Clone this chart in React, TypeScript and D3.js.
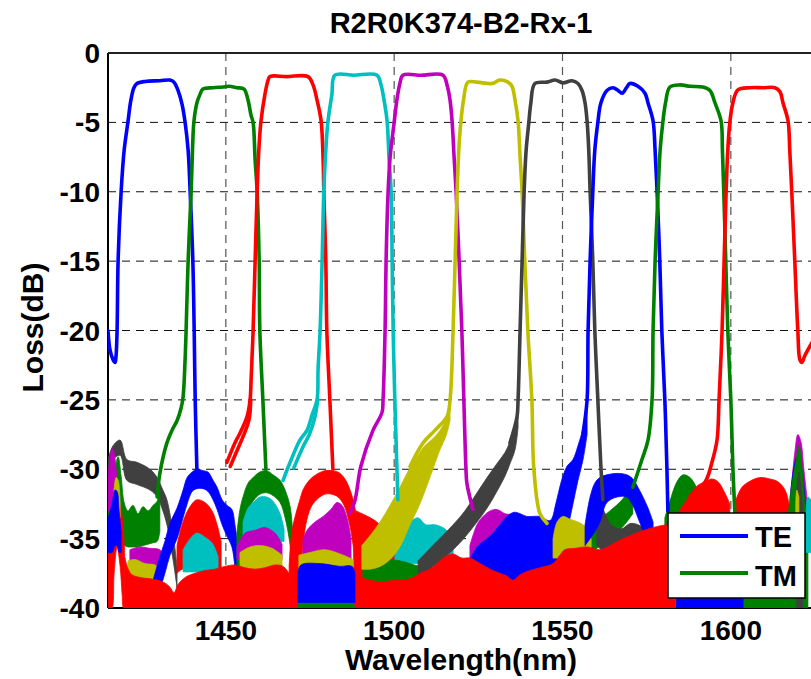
import React from 'react';
import * as d3 from 'd3';

const titleText = 'R2R0K374-B2-Rx-1';
const xLabel = 'Wavelength(nm)';
const yLabel = 'Loss(dB)';
const xTicks = [1450, 1500, 1550, 1600];
const yTicks = [0, -5, -10, -15, -20, -25, -30, -35, -40];
const legendLabels = ['TE', 'TM'];

type P = [number, number];
type B = [number, number, number];

const BLUE = '#0000ff', GREEN = '#008000', RED = '#ff0000', CYAN = '#00bfbf', MAG = '#bf00bf', YEL = '#bfbf00', GRAY = '#404040';

// ---- passband traces [wavelength nm, loss dB]
const ch1: P[] = [[1415.0,-20.0],[1415.6,-21.4],[1416.5,-22.1],[1417.1,-22.3],[1417.4,-21.8],[1417.7,-20.0],[1418.0,-15.0],[1418.9,-10.0],[1419.8,-7.0],[1420.9,-5.0],[1421.8,-3.4],[1422.7,-2.5],[1423.6,-2.2],[1426.0,-2.05],[1430.4,-2.0],[1433.4,-1.95],[1434.6,-2.1],[1435.8,-2.7],[1437.0,-3.7],[1437.9,-5.0],[1438.8,-7.0],[1439.4,-10.0],[1440.2,-15.0],[1440.6,-20.0],[1440.9,-25.0],[1441.4,-30.0]];
const ch2: P[] = [[1429.6,-32.0],[1430.4,-30.3],[1432.5,-28.1],[1434.0,-27.2],[1435.5,-26.5],[1436.7,-25.6],[1437.3,-24.8],[1437.9,-22.1],[1438.2,-20.0],[1438.8,-15.0],[1439.7,-10.0],[1440.1,-7.0],[1440.5,-5.0],[1441.4,-3.6],[1442.3,-3.0],[1443.2,-2.6],[1446.2,-2.5],[1449.1,-2.45],[1450.9,-2.4],[1453.3,-2.5],[1455.4,-2.6],[1456.6,-3.4],[1457.5,-4.5],[1458.1,-5.0],[1458.7,-7.7],[1459.3,-10.0],[1459.9,-15.0],[1460.1,-20.0],[1461.0,-25.0],[1461.9,-30.0]];
const ch3: P[] = [[1450.3,-29.5],[1452.7,-28.1],[1454.2,-27.4],[1456.3,-26.2],[1457.2,-25.0],[1457.5,-23.6],[1458.1,-20.0],[1458.7,-15.0],[1459.3,-10.0],[1459.8,-7.0],[1460.4,-5.0],[1461.6,-3.0],[1462.5,-2.0],[1463.1,-1.7],[1468.0,-1.7],[1474.4,-1.7],[1475.9,-2.3],[1477.1,-3.4],[1478.3,-4.9],[1478.9,-7.7],[1479.1,-10.0],[1479.7,-15.0],[1480.0,-20.0],[1480.9,-25.0],[1481.8,-30.0]];
const ch3b: P[] = [[1451.3,-29.8],[1453.6,-28.5],[1455.2,-27.6],[1456.9,-26.4],[1457.4,-25.0]];
const ch4: P[] = [[1467.0,-30.8],[1469.1,-29.5],[1472.0,-27.9],[1474.1,-27.2],[1475.6,-26.1],[1477.1,-25.0],[1477.4,-22.8],[1478.0,-20.0],[1478.6,-15.0],[1479.1,-10.0],[1479.7,-7.0],[1480.3,-5.0],[1481.5,-3.0],[1482.4,-1.6],[1488.0,-1.6],[1494.9,-1.6],[1496.1,-2.3],[1497.0,-3.4],[1497.9,-4.9],[1498.5,-7.7],[1499.1,-10.0],[1499.4,-15.0],[1499.7,-20.0],[1500.2,-25.0],[1500.8,-29.8],[1501.1,-32.2]];
const ch4b: P[] = [[1470.2,-29.9],[1472.9,-28.4],[1474.8,-27.5],[1476.4,-26.3],[1477.3,-25.0]];
const ch5: P[] = [[1486.9,-33.2],[1488.4,-32.2],[1490.1,-29.8],[1493.7,-27.2],[1496.4,-25.9],[1496.7,-25.0],[1497.3,-20.0],[1497.6,-15.0],[1498.2,-10.0],[1498.8,-7.5],[1500.0,-5.0],[1500.8,-3.4],[1501.7,-2.2],[1502.6,-1.6],[1508.0,-1.6],[1514.5,-1.6],[1515.7,-2.3],[1516.6,-3.4],[1517.2,-4.9],[1517.8,-7.5],[1518.4,-10.0],[1519.3,-15.0],[1520.1,-20.0],[1520.7,-25.0],[1521.3,-29.8],[1521.6,-31.0],[1523.4,-32.9]];
const ch6: P[] = [[1504.7,-29.8],[1508.6,-28.1],[1512.1,-27.2],[1515.7,-26.2],[1516.6,-25.0],[1517.5,-20.0],[1518.1,-15.0],[1518.7,-10.0],[1519.2,-7.0],[1519.8,-5.0],[1520.6,-3.4],[1521.9,-2.1],[1524.6,-2.1],[1529.1,-2.2],[1531.4,-1.95],[1533.8,-2.1],[1535.0,-2.4],[1535.9,-3.4],[1536.8,-4.9],[1537.4,-7.5],[1538.0,-10.0],[1538.8,-15.0],[1539.7,-20.0],[1540.9,-25.0],[1541.5,-30.0],[1543.3,-33.2],[1545.4,-33.9]];
const ch7: P[] = [[1534.4,-28.1],[1536.5,-26.2],[1536.8,-25.0],[1537.4,-20.0],[1538.0,-15.0],[1538.6,-10.0],[1539.2,-7.0],[1540.0,-5.0],[1540.6,-3.6],[1541.8,-2.2],[1545.4,-2.1],[1547.8,-1.95],[1550.1,-2.15],[1552.8,-2.0],[1554.6,-2.2],[1555.8,-2.7],[1556.7,-3.6],[1557.3,-4.9],[1557.8,-7.0],[1558.2,-10.0],[1559.0,-15.0],[1559.6,-20.0],[1560.5,-25.0],[1561.4,-29.8],[1562.0,-32.2]];
const ch8: P[] = [[1556.1,-27.4],[1557.3,-25.0],[1557.6,-20.0],[1558.2,-15.0],[1559.0,-10.0],[1559.6,-7.0],[1560.5,-5.0],[1561.4,-3.6],[1563.2,-2.7],[1565.0,-2.5],[1566.5,-2.7],[1567.7,-2.9],[1569.0,-2.5],[1570.0,-2.2],[1572.4,-2.4],[1574.5,-2.9],[1575.4,-3.6],[1576.9,-4.9],[1577.5,-7.0],[1578.1,-10.0],[1578.9,-15.0],[1579.5,-20.0],[1580.4,-25.0],[1581.0,-29.8],[1581.3,-33.0]];
const ch9: P[] = [[1570.9,-31.3],[1573.6,-29.3],[1575.4,-27.9],[1576.6,-25.0],[1576.9,-20.0],[1577.5,-15.0],[1578.4,-10.0],[1579.0,-7.0],[1579.8,-5.0],[1580.6,-3.6],[1581.9,-2.45],[1584.9,-2.3],[1587.9,-2.4],[1591.7,-2.45],[1593.8,-2.7],[1595.3,-3.6],[1597.1,-4.9],[1597.5,-7.0],[1597.9,-10.0],[1598.5,-15.0],[1599.1,-20.0],[1600.0,-25.0],[1600.6,-29.8],[1601.2,-33.2]];
const ch10: P[] = [[1587.9,-31.9],[1592.4,-30.9],[1594.4,-29.5],[1595.9,-27.9],[1596.5,-25.0],[1597.4,-20.0],[1598.0,-15.0],[1598.6,-10.0],[1599.1,-7.0],[1599.7,-5.0],[1600.6,-3.6],[1602.1,-2.65],[1605.7,-2.5],[1609.5,-2.5],[1613.1,-2.5],[1614.6,-2.8],[1615.5,-3.6],[1617.0,-4.9],[1617.5,-7.0],[1618.1,-10.0],[1619.0,-15.0],[1619.9,-20.0],[1620.5,-22.1],[1621.1,-22.3],[1622.0,-21.8],[1623.8,-21.0],[1625.0,-20.5]];

// ---- noise-floor bands [wavelength nm, upper dB, lower dB]
const grayHumpL: B[] = [[1415.0,-29.3,-30.1],[1416.5,-28.3,-29.3],[1418.6,-27.9,-29.0],[1420.6,-29.3,-30.8],[1423.6,-29.5,-31.1],[1427.5,-30.0,-31.5],[1429.6,-30.6,-32.0],[1431.3,-31.5,-33.0],[1432.5,-32.2,-34.0],[1434.3,-34.6,-36.5],[1435.5,-37.0,-38.5]];
const greenBandL: B[] = [[1415.0,-32.6,-36.0],[1415.9,-31.0,-35.8],[1416.8,-30.2,-35.6],[1418.0,-29.1,-35.5],[1418.9,-30.5,-35.5],[1419.8,-32.4,-35.5],[1420.9,-33.0,-35.6],[1422.4,-32.6,-35.6],[1423.9,-33.2,-35.6],[1425.4,-32.7,-35.5],[1426.9,-33.0,-35.4],[1428.4,-32.6,-35.3],[1429.6,-32.3,-35.2],[1430.4,-31.5,-34.5]];
const magentaL: B[] = [[1421.5,-35.8,-37.0],[1424.5,-35.6,-37.0],[1427.5,-35.7,-37.0],[1430.4,-35.8,-37.0],[1431.9,-36.3,-37.0]];
const yellowL: B[] = [[1420.9,-36.6,-38.0],[1423.0,-36.5,-38.2],[1426.0,-36.8,-38.0],[1429.0,-36.9,-38.0],[1430.4,-37.2,-38.0]];
const redBottomL: B[] = [[1415.0,-34.4,-40],[1415.6,-33.3,-40],[1416.2,-32.8,-40],[1416.8,-32.4,-37.6],[1417.7,-32.2,-35.6],[1418.6,-32.6,-37.0],[1419.2,-33.4,-39.0],[1419.6,-34.5,-40],[1420.0,-36.3,-40]];
const magentaSpikeL: B[] = [[1415.0,-30.5,-33],[1415.6,-29.2,-33],[1416.2,-28.5,-33],[1416.8,-28.8,-33],[1417.4,-30.0,-33],[1418.0,-31.5,-33]];
const yellowSpikeL: B[] = [[1416.8,-31.5,-33.5],[1417.4,-30.6,-33.5],[1418.0,-30.8,-33.5],[1418.6,-32.3,-33.5]];
const blueSpikeL: B[] = [[1415.0,-33.5,-36],[1416.2,-32.5,-36],[1417.1,-31.5,-35.5],[1417.7,-31.6,-35.5],[1418.3,-33.0,-36],[1418.9,-34.5,-36]];
const blueArch1: B[] = [[1428.4,-38.0,-39.0],[1430.4,-36.3,-38.5],[1431.9,-35.2,-37.5],[1433.4,-33.9,-36.2],[1435.5,-32.8,-35.0],[1437.3,-31.5,-33.5],[1438.5,-30.6,-32.5],[1440.0,-30.2,-31.6],[1441.4,-30.0,-31.4],[1443.2,-30.1,-31.4],[1444.7,-30.2,-31.6],[1446.2,-30.8,-32.2],[1447.4,-31.3,-32.9],[1448.9,-32.2,-34.0],[1450.3,-32.6,-34.8],[1451.8,-32.9,-35.6],[1452.7,-34.0,-37.0],[1453.6,-35.6,-38.5],[1454.5,-37.0,-39.5]];
const redBlob3L: B[] = [[1435.5,-35.5,-37.5],[1437.0,-34.0,-37.2],[1439.1,-32.8,-37.2],[1441.4,-32.2,-37.2],[1443.8,-32.4,-37.2],[1445.9,-33.0,-37.2],[1447.4,-34.0,-37.2],[1448.6,-35.2,-37.5]];
const cyanBlobA: B[] = [[1437.3,-35.8,-37.4],[1439.4,-35.0,-37.4],[1441.4,-34.6,-37.4],[1443.8,-34.9,-37.4],[1445.9,-35.3,-37.4],[1447.7,-36.3,-37.4]];
const greenArch2: B[] = [[1453.3,-34.6,-40],[1454.2,-32.9,-37.0],[1455.1,-32.0,-35.0],[1456.6,-31.0,-33.0],[1458.1,-30.6,-32.3],[1460.1,-30.2,-31.8],[1462.2,-30.1,-31.7],[1464.0,-30.4,-31.9],[1466.1,-30.8,-32.4],[1467.6,-31.5,-33.5],[1469.1,-32.7,-35.5],[1469.9,-34.6,-38.0],[1470.8,-36.5,-40]];
const cyanBlobB: B[] = [[1455.1,-33.8,-35.2],[1456.6,-32.8,-35.2],[1458.1,-32.4,-35.2],[1460.1,-32.0,-35.2],[1462.2,-32.0,-35.2],[1464.0,-32.3,-35.2],[1466.1,-33.2,-35.2],[1467.3,-34.3,-35.2]];
const magentaBlobB: B[] = [[1453.3,-35.6,-36.5],[1455.7,-34.6,-36.5],[1458.7,-34.4,-36.5],[1461.6,-34.2,-36.5],[1464.6,-34.6,-36.5],[1466.7,-35.4,-36.5]];
const yellowBlobB: B[] = [[1454.2,-36.0,-37.3],[1457.2,-35.6,-37.3],[1460.1,-35.5,-37.3],[1463.7,-35.7,-37.3],[1466.7,-36.2,-37.3]];
const greenBottomC: B[] = [[1468.5,-38.0,-40],[1472.0,-39.2,-40],[1486.9,-39.3,-40],[1489.2,-38.5,-40]];
const redArch3: B[] = [[1468.8,-37.0,-40],[1469.6,-34.5,-40],[1470.8,-33.2,-40],[1472.0,-32.2,-38.5],[1472.9,-31.5,-35.5],[1474.1,-31.0,-33.6],[1475.6,-30.6,-32.6],[1477.4,-30.3,-32.1],[1479.4,-30.1,-31.8],[1481.5,-30.1,-31.8],[1483.3,-30.2,-32.0],[1485.1,-30.6,-32.6],[1486.6,-31.3,-33.8],[1487.8,-32.2,-35.5],[1488.7,-33.2,-40],[1489.8,-34.5,-40],[1490.7,-36.0,-40]];
const magentaBlobC: B[] = [[1472.9,-35.0,-36.5],[1474.4,-34.3,-36.5],[1476.5,-33.8,-36.5],[1478.9,-33.4,-36.5],[1481.2,-32.9,-36.5],[1483.0,-32.4,-36.5],[1484.5,-32.6,-36.5],[1486.0,-33.5,-36.5],[1487.2,-35.0,-36.5]];
const yellowBlobC: B[] = [[1471.7,-36.2,-37.5],[1475.0,-36.0,-37.5],[1479.4,-35.8,-37.5],[1483.9,-36.1,-37.5],[1487.8,-36.5,-37.5]];
const blueBlobC: B[] = [[1471.4,-37.6,-39.6],[1472.3,-36.9,-39.6],[1478.0,-36.8,-39.6],[1483.9,-37.0,-39.6],[1487.5,-37.0,-39.6],[1488.4,-37.6,-39.6]];
const redBumpD: B[] = [[1488.7,-33.0,-37],[1491.3,-33.3,-37],[1494.3,-33.7,-37],[1496.7,-34.2,-37],[1498.8,-34.6,-37],[1500.8,-34.4,-37],[1502.6,-34.8,-37],[1504.7,-35.8,-37]];
const cyanBlobD: B[] = [[1500.2,-33.8,-36.8],[1502.3,-33.4,-36.8],[1504.7,-33.7,-36.8],[1507.1,-33.5,-36.8],[1509.4,-34.0,-36.8],[1512.1,-34.0,-37.0],[1515.1,-34.3,-37.0],[1517.5,-35.0,-37.0]];
const greenBand9: B[] = [[1490.7,-36.6,-38.6],[1495.8,-36.5,-38.4],[1501.7,-36.6,-38.4],[1507.7,-37.0,-38.4],[1516.6,-37.2,-38.6],[1525.5,-37.3,-38.7],[1534.4,-37.2,-38.6],[1538.8,-36.9,-38.3],[1544.8,-36.4,-37.9],[1550.1,-35.8,-37.3],[1555.2,-34.9,-36.6],[1559.6,-33.9,-35.8],[1564.1,-33.0,-35.0],[1567.7,-32.2,-34.2],[1570.9,-31.0,-33.2]];
const yellowShoulder6: B[] = [[1490.4,-35.5,-37.2],[1492.8,-34.8,-37.2],[1495.8,-33.8,-37.0],[1498.8,-32.6,-36.5],[1501.7,-31.3,-35.6],[1504.7,-29.9,-34.0],[1507.1,-29.0,-32.8],[1509.1,-28.3,-31.6],[1511.5,-27.8,-30.0],[1513.6,-27.2,-28.6],[1515.4,-26.4,-27.6],[1516.6,-25.0,-26.5]];
const magentaBlobE: B[] = [[1522.5,-35.5,-37.5],[1524.6,-34.0,-37.5],[1526.4,-33.4,-37.5],[1528.5,-33.0,-37.5],[1530.5,-32.9,-37.5],[1532.9,-33.2,-37.5],[1535.0,-33.3,-37.5],[1537.4,-33.9,-37.5],[1539.1,-35.0,-37.5]];
const grayShoulder7: B[] = [[1507.1,-36.6,-37.8],[1511.5,-35.5,-37.0],[1517.5,-34.0,-35.8],[1521.0,-33.0,-34.9],[1524.6,-31.7,-33.8],[1527.6,-30.6,-32.8],[1530.5,-29.6,-31.6],[1532.9,-28.8,-30.5],[1534.4,-28.0,-29.6],[1535.9,-26.8,-28.6],[1536.8,-25.0,-27.0]];
const blueBlob8: B[] = [[1522.5,-36.5,-38.0],[1524.6,-35.6,-38.2],[1527.6,-35.0,-38.6],[1529.4,-34.6,-38.8],[1531.4,-34.0,-38.8],[1533.5,-33.4,-38.6],[1535.6,-33.1,-38.2],[1537.4,-33.2,-37.8],[1539.4,-33.4,-37.6],[1543.3,-33.4,-37.4],[1546.3,-33.7,-37.2],[1548.1,-32.4,-37.0],[1549.5,-31.0,-36.0],[1551.3,-29.8,-34.5],[1553.1,-29.3,-32.5],[1554.6,-28.3,-30.8],[1556.1,-27.0,-29.3],[1557.3,-25.0,-27.5]];
const yellowBlobF: B[] = [[1547.2,-35.0,-36.4],[1548.4,-33.8,-36.4],[1550.1,-33.4,-36.4],[1552.2,-33.6,-36.4],[1554.6,-33.8,-36.4],[1557.0,-34.2,-36.4],[1558.5,-35.0,-36.4]];
const grayBlob7R: B[] = [[1560.2,-32.2,-35.5],[1562.3,-33.0,-36.0],[1564.4,-34.0,-36.5],[1567.4,-34.3,-36.5],[1570.3,-33.9,-36.5],[1573.3,-34.1,-36.5],[1575.7,-34.6,-36.5],[1577.2,-35.5,-36.5]];
const blueHump8: B[] = [[1556.7,-34.0,-35.5],[1558.2,-32.0,-35.0],[1559.6,-31.0,-34.5],[1561.1,-30.6,-33.8],[1563.2,-30.4,-32.4],[1566.2,-30.3,-32.0],[1569.1,-30.4,-32.0],[1570.9,-30.7,-32.6],[1572.4,-31.3,-33.5],[1573.9,-32.0,-34.4],[1575.4,-32.8,-35.2],[1576.9,-33.8,-35.5]];
const greenHump9R: B[] = [[1580.4,-33.5,-34.5],[1581.9,-32.3,-34.5],[1584.0,-30.9,-34.0],[1585.8,-30.4,-33.8],[1587.9,-30.6,-33.8],[1590.0,-31.4,-34.0],[1591.7,-32.3,-34.0]];
const redBlob10L: B[] = [[1583.7,-33.4,-34.5],[1585.8,-32.6,-34.5],[1587.9,-31.9,-34.5],[1590.0,-31.2,-34.5],[1592.4,-30.9,-34.5],[1594.4,-30.7,-34.5],[1596.2,-30.9,-34.5],[1598.0,-31.6,-34.5],[1599.7,-32.5,-34.5]];
const redBlob10R: B[] = [[1601.5,-32.2,-34.5],[1603.3,-31.3,-34.5],[1605.4,-30.9,-34.5],[1608.6,-30.6,-34.5],[1611.6,-30.7,-34.5],[1614.0,-30.9,-34.5],[1616.1,-31.5,-34.5],[1617.3,-32.5,-34.5]];
const magentaSpikeR: B[] = [[1617.9,-31.5,-36],[1619.0,-28.8,-36],[1619.9,-27.5,-36],[1620.8,-28.0,-36],[1621.7,-30.0,-36],[1622.6,-32.0,-36]];
const blueSpikeR: B[] = [[1617.6,-32.0,-38],[1618.8,-29.8,-38],[1619.9,-29.0,-38],[1621.1,-30.0,-38],[1622.3,-33.0,-38]];
const greenSpikeR: B[] = [[1616.7,-34.0,-40],[1618.2,-31.0,-40],[1619.3,-29.5,-40],[1620.2,-28.3,-40],[1621.1,-29.8,-40],[1622.0,-32.5,-40],[1622.9,-35.0,-40]];
const graySpikeR: B[] = [[1619.6,-31.5,-40],[1620.2,-30.2,-40],[1620.8,-31.2,-40],[1621.4,-33.0,-40]];
const yellowSpikeR: B[] = [[1619.3,-32.5,-34.0],[1619.6,-31.5,-34.0],[1620.2,-32.0,-34.0]];
const cyanSpikeR: B[] = [[1622.3,-33.5,-36],[1622.9,-32.0,-36],[1623.8,-32.2,-36],[1625.0,-32.5,-36]];
const blueLow: B[] = [[1583.7,-36.5,-40],[1603.9,-36.5,-40]];
const greenLow: B[] = [[1603.9,-37.0,-40],[1617.6,-37.0,-40]];
const redBottomA: B[] = [[1420.0,-36.4,-40],[1421.0,-37.2,-40],[1422.1,-37.6,-40],[1424.5,-37.8,-40],[1427.5,-37.9,-40],[1429.8,-38.0,-40],[1431.9,-38.2,-40],[1433.4,-38.5,-40],[1434.6,-38.9,-40],[1435.8,-38.3,-40],[1437.9,-37.8,-40],[1440.8,-37.5,-40],[1443.8,-37.3,-40],[1446.8,-37.2,-40],[1449.7,-37.0,-40],[1452.7,-36.9,-40],[1455.7,-37.1,-40],[1458.7,-37.2,-40],[1461.6,-37.1,-40],[1464.6,-36.9,-40],[1467.0,-37.0,-40],[1468.8,-37.5,-40]];
const redBottomB: B[] = [[1488.7,-37.6,-40],[1491.3,-37.9,-40],[1495.8,-38.1,-40],[1500.2,-38.0,-40],[1504.7,-37.9,-40],[1507.7,-37.5,-40],[1510.6,-37.2,-40],[1512.7,-36.8,-40],[1515.1,-36.3,-40],[1517.5,-36.1,-40],[1520.1,-36.4,-40],[1522.5,-36.4,-40],[1525.5,-36.8,-40],[1528.5,-37.2,-40],[1531.4,-37.5,-40],[1533.5,-37.7,-40],[1535.3,-38.0,-40],[1537.4,-37.6,-40],[1540.3,-37.3,-40],[1543.3,-37.1,-40],[1547.2,-36.8,-40],[1549.2,-36.2,-40],[1550.7,-35.8,-40],[1553.7,-35.7,-40],[1557.3,-35.6,-40],[1561.1,-35.8,-40],[1564.1,-35.5,-40],[1567.1,-35.1,-40],[1570.0,-34.8,-40],[1573.0,-34.5,-40],[1576.9,-34.2,-40],[1581.0,-34.0,-40],[1583.1,-34.0,-40],[1583.5,-40,-40]];

const x = d3.scaleLinear().domain([1415, 1625]).range([108, 815]);
const y = d3.scaleLinear().domain([-40, 0]).range([608, 53]);
const linePath = d3.line<P>().x(d => x(d[0])).y(d => y(d[1])).curve(d3.curveCatmullRom.alpha(0.5));
const areaPath = d3.area<B>().x(d => x(d[0])).y0(d => y(d[2])).y1(d => y(d[1])).curve(d3.curveCatmullRom.alpha(0.5));

const FONT = "'Liberation Sans', Arial, Helvetica, sans-serif";

export default function App() {
  const layers: [B[], string][] = [
    [grayHumpL, GRAY], [greenBandL, GREEN], [magentaL, MAG], [yellowL, YEL], [redBottomL, RED],
    [magentaSpikeL, MAG], [yellowSpikeL, YEL], [blueSpikeL, BLUE],
    [blueArch1, BLUE], [redBlob3L, RED], [cyanBlobA, CYAN],
    [greenArch2, GREEN], [cyanBlobB, CYAN], [magentaBlobB, MAG], [yellowBlobB, YEL],
    [greenBottomC, GREEN], [redArch3, RED], [magentaBlobC, MAG], [yellowBlobC, YEL], [blueBlobC, BLUE],
    [redBumpD, RED], [cyanBlobD, CYAN], [greenBand9, GREEN], [yellowShoulder6, YEL], [magentaBlobE, MAG],
    [grayShoulder7, GRAY], [blueBlob8, BLUE], [yellowBlobF, YEL], [grayBlob7R, GRAY], [blueHump8, BLUE],
    [greenHump9R, GREEN], [redBlob10L, RED], [redBlob10R, RED],
    [magentaSpikeR, MAG], [blueSpikeR, BLUE], [greenSpikeR, GREEN], [graySpikeR, GRAY], [yellowSpikeR, YEL], [cyanSpikeR, CYAN],
    [blueLow, BLUE], [greenLow, GREEN], [redBottomA, RED], [redBottomB, RED],
  ];
  const traces: [P[], string][] = [
    [ch1, BLUE], [ch2, GREEN], [ch3, RED], [ch3b, RED], [ch4, CYAN], [ch4b, CYAN], [ch5, MAG],
    [ch6, YEL], [ch7, GRAY], [ch8, BLUE], [ch9, GREEN], [ch10, RED],
  ];
  const legendColors = [BLUE, GREEN];
  const [x0, x1] = x.range();
  const [yb, yt] = y.range();
  return (
    <svg width={811} height={679} style={{ position: 'absolute', left: 0, top: 0 }} fontFamily={FONT} fontWeight="bold">
      <defs>
        <clipPath id="plotclip"><rect x={x0} y={yt} width={x1 - x0} height={yb - yt} /></clipPath>
      </defs>
      <rect x={0} y={0} width={811} height={679} fill="#fff" />
      {yTicks.map(v => (
        <line key={'gy' + v} x1={x0} x2={x1} y1={y(v)} y2={y(v)} stroke="#111" strokeWidth={1} strokeDasharray="8,6" />
      ))}
      {xTicks.map(v => (
        <line key={'gx' + v} x1={x(v)} x2={x(v)} y1={yt} y2={yb} stroke="#555" strokeWidth={1.2} strokeDasharray="8,6" />
      ))}
      <line x1={x0} x2={x0} y1={yt} y2={yb} stroke="#000" strokeWidth={2} />
      <line x1={x0} x2={x1} y1={yt} y2={yt} stroke="#222" strokeWidth={2} />
      <line x1={x0} x2={x1} y1={yb} y2={yb} stroke="#000" strokeWidth={2} />
      <g clipPath="url(#plotclip)">
        {layers.map(([d, c], i) => (
          <path key={'a' + i} d={areaPath(d) || ''} fill={c} stroke={c} strokeWidth={0.8} strokeLinejoin="round" />
        ))}
        {traces.map(([d, c], i) => (
          <path key={'t' + i} d={linePath(d) || ''} fill="none" stroke={c} strokeWidth={3.6} strokeLinejoin="round" strokeLinecap="round" />
        ))}
      </g>
      {yTicks.map(v => (
        <text key={'ly' + v} x={100} y={y(v) + 10} textAnchor="end" fontSize={28}>{String(v)}</text>
      ))}
      {xTicks.map(v => (
        <text key={'lx' + v} x={x(v)} y={640} textAnchor="middle" fontSize={28}>{String(v)}</text>
      ))}
      <text x={461} y={33} textAnchor="middle" fontSize={29}>{titleText}</text>
      <text x={461} y={670} textAnchor="middle" fontSize={30}>{xLabel}</text>
      <text transform="translate(43,327.5) rotate(-90)" textAnchor="middle" fontSize={30}>{yLabel}</text>
      <g>
        <rect x={668} y={513} width={137} height={85} fill="#fff" stroke="#000" strokeWidth={1.5} />
        {legendLabels.map((t, i) => (
          <g key={t}>
            <line x1={680} x2={748} y1={536 + i * 37} y2={536 + i * 37} stroke={legendColors[i]} strokeWidth={4} />
            <text x={755} y={547 + i * 39} fontSize={29}>{t}</text>
          </g>
        ))}
      </g>
    </svg>
  );
}
